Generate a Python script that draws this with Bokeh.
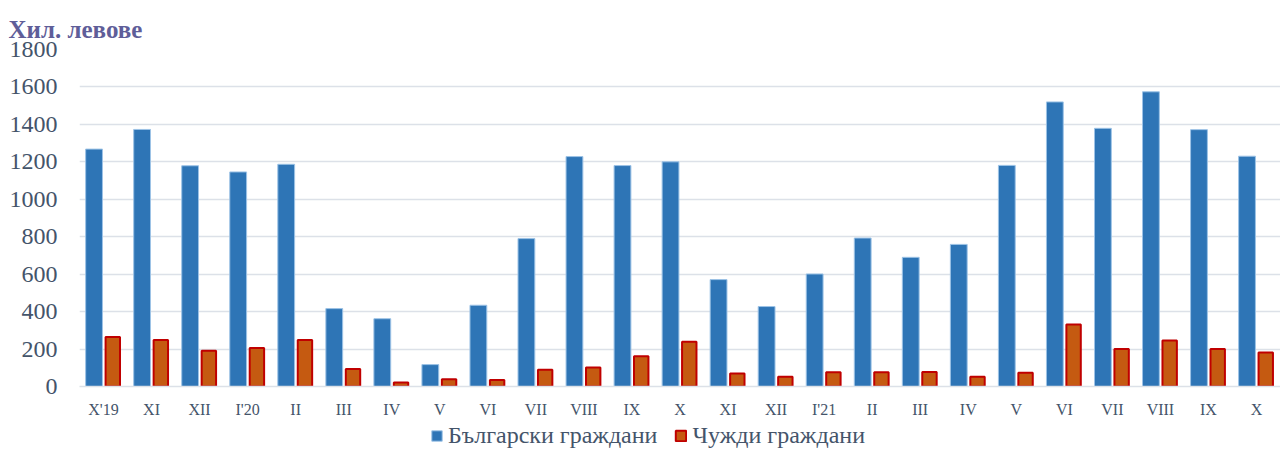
from bokeh.plotting import figure
from bokeh.layouts import column
from bokeh.models import ColumnDataSource, Range1d, Legend, LegendItem, FixedTicker
from bokeh.embed import file_html
from bokeh.resources import INLINE

months = ["X'19", "XI", "XII", "I'20", "II", "III", "IV", "V", "VI", "VII", "VIII", "IX", "X",
          "XI", "XII", "I'21", "II", "III", "IV", "V", "VI", "VII", "VIII", "IX", "X"]
bulgarian = [1268, 1373, 1179, 1146, 1187, 416, 362, 117, 434, 790, 1228, 1180, 1200,
             571, 427, 601, 793, 690, 759, 1181, 1520, 1379, 1574, 1372, 1230]
foreign = [264, 248, 191, 205, 248, 93, 21, 39, 35, 90, 101, 161, 239,
           69, 52, 76, 76, 78, 52, 73, 331, 200, 246, 200, 182]
series_names = ["Български граждани", "Чужди граждани"]
y_ticks = [0, 200, 400, 600, 800, 1000, 1200, 1400, 1600, 1800]

idx = list(range(len(months)))
src = ColumnDataSource(dict(
    x_bg=[i - 0.197 for i in idx], x_fr=[i + 0.193 for i in idx],
    bg=bulgarian, fr=foreign))

SERIF = "Liberation Serif"
TXT = "#44546A"
BLUE = dict(fill_color="#2E75B6", line_color="#9DC3E6", line_width=1)
RED = dict(fill_color="#C55A11", line_color="#C00000", line_width=2)

p = figure(x_range=Range1d(-0.5, len(months) - 0.5), y_range=Range1d(0, 1800),
           width=1280, height=420,
           min_border_left=79, min_border_right=0, min_border_top=49, min_border_bottom=33,
           output_backend="svg", toolbar_location=None,
           title="Хил. левове")
p.title.align = "left"
p.title.vertical_align = "top"
p.title.offset = -71
p.title.text_font = SERIF
p.title.text_font_size = "25px"
p.title.text_font_style = "bold"
p.title.text_color = "#5F5E99"
p.title.text_line_height = 0.75
p.title.standoff = 10

p.outline_line_color = None
p.background_fill_color = "white"

p.vbar(x="x_bg", top="bg", width=0.35, source=src, **BLUE)
p.vbar(x="x_fr", top="fr", width=0.30, source=src, **RED)

p.xgrid.grid_line_color = None
p.ygrid.grid_line_color = "#DCE1E8"
p.ygrid.grid_line_width = 1.5
p.yaxis.ticker = FixedTicker(ticks=y_ticks)
p.yaxis.axis_line_color = None
p.yaxis.major_tick_line_color = None
p.yaxis.minor_tick_line_color = None
p.yaxis.major_tick_out = 0
p.yaxis.major_label_standoff = 22
p.yaxis.major_label_text_font = SERIF
p.yaxis.major_label_text_font_size = "24px"
p.yaxis.major_label_text_color = TXT

p.xaxis.ticker = FixedTicker(ticks=idx)
p.xaxis.axis_line_color = "#DCE1E8"
p.xaxis.axis_line_width = 1.5
p.xaxis.major_tick_line_color = None
p.xaxis.minor_tick_line_color = None
p.xaxis.major_tick_out = 0
p.xaxis.major_label_standoff = 14
p.xaxis.major_label_text_font = SERIF
p.xaxis.major_label_text_font_size = "16px"
p.xaxis.major_label_text_color = TXT
p.xaxis.major_label_overrides = {i: m for i, m in zip(idx, months)}

# legend strip below the chart (its frame is aligned with the chart's frame)
q = figure(width=1280, height=29, x_axis_type=None, y_axis_type=None,
           x_range=Range1d(0, 1), y_range=Range1d(0, 1),
           min_border_left=0, min_border_right=0, min_border_top=0, min_border_bottom=0,
           output_backend="svg", toolbar_location=None)
q.outline_line_color = None
q.xgrid.grid_line_color = None
q.ygrid.grid_line_color = None
lsrc = ColumnDataSource(dict(x=[5], top=[0]))
lb = q.vbar(x="x", top="top", width=0.1, source=lsrc, **BLUE)
lr = q.vbar(x="x", top="top", width=0.1, source=lsrc, **RED)
legend = Legend(items=[LegendItem(label=series_names[0], renderers=[lb], index=0),
                       LegendItem(label=series_names[1], renderers=[lr], index=0)],
                orientation="horizontal", location=(351, 0),
                label_text_font=SERIF, label_text_font_size="24px", label_text_color=TXT,
                glyph_width=13, glyph_height=13, label_standoff=5, spacing=17,
                padding=0, margin=0, border_line_color=None, background_fill_alpha=0)
q.add_layout(legend, "center")

open("out.html", "w").write(file_html(column(p, q, spacing=0), INLINE))
